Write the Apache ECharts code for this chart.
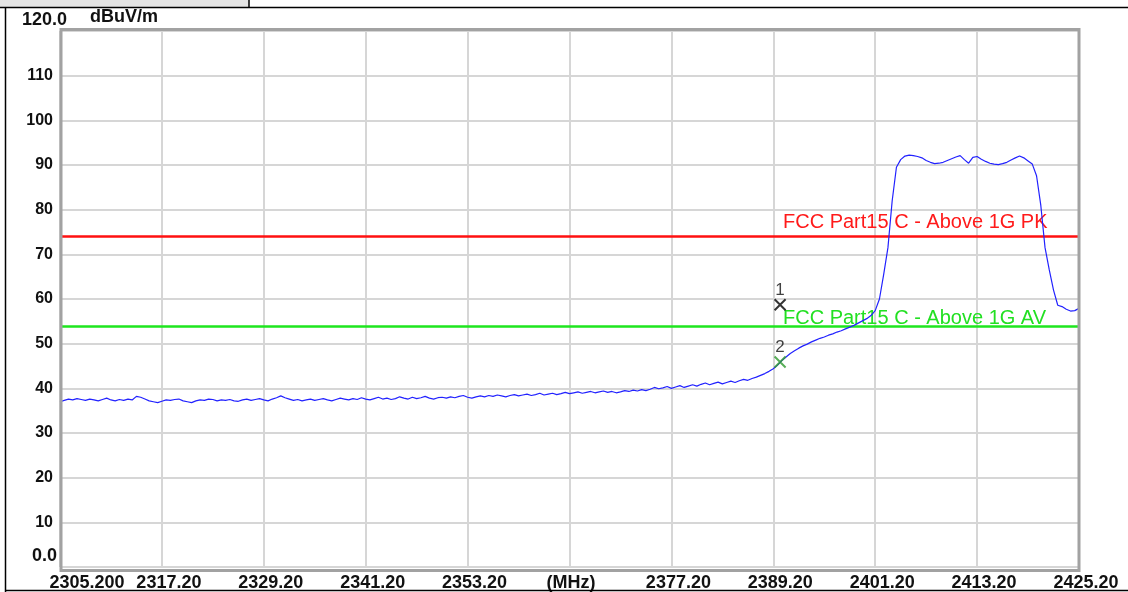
<!DOCTYPE html>
<html>
<head>
<meta charset="utf-8">
<script src="https://cdn.jsdelivr.net/npm/echarts@6/dist/echarts.min.js"></script>
<style>
  html, body { margin: 0; padding: 0; background: #ffffff; }
  #chart { width: 1128px; height: 592px; }
</style>
</head>
<body>
<div id="chart"></div>
<script>
// Sweep settings (MHz)
const sweepStartMHz = 2305.2;
const sweepStopMHz = 2425.2;
const sweepStepMHz = 0.5;
const freqTickStepMHz = 12;

// Axis tick labels
const freqTickLabels = ['2305.200', '2317.20', '2329.20', '2341.20', '2353.20', '(MHz)',
                        '2377.20', '2389.20', '2401.20', '2413.20', '2425.20'];
const levelTickLabels = ['0.0', '10', '20', '30', '40', '50', '60', '70', '80', '90', '100', '110', '120.0'];
const levelUnit = 'dBuV/m';

// Measured trace, one level (dBuV/m) per sweep point
const traceLevels = [
  37.0, 37.3, 37.6, 37.4, 37.7, 37.5, 37.3, 37.6, 37.4, 37.2,
  37.5, 37.8, 37.4, 37.2, 37.5, 37.3, 37.6, 37.4, 38.2, 38.0,
  37.6, 37.2, 37.0, 36.8, 37.1, 37.4, 37.3, 37.5, 37.6, 37.2,
  37.0, 36.8, 37.2, 37.4, 37.3, 37.6, 37.5, 37.2, 37.4, 37.3,
  37.5, 37.2, 37.1, 37.4, 37.6, 37.3, 37.5, 37.7, 37.4, 37.2,
  37.6, 37.9, 38.3, 37.9, 37.6, 37.3, 37.5, 37.2, 37.4, 37.6,
  37.3, 37.5, 37.7, 37.4, 37.2, 37.5, 37.8, 37.6, 37.4, 37.7,
  37.5, 37.9, 37.6, 37.4, 37.7, 38.0, 37.6, 37.8, 37.5, 37.7,
  38.1, 37.8, 37.6, 38.0, 37.7, 37.9, 38.2, 37.8, 37.6, 37.9,
  38.0, 37.8, 38.1, 37.9, 38.2, 38.4, 38.0, 37.8, 38.1, 38.3,
  38.1, 38.4, 38.2, 38.5, 38.3, 38.1, 38.4, 38.6, 38.3, 38.5,
  38.7, 38.4, 38.6, 38.9, 38.5, 38.7, 38.9, 38.6, 38.8, 39.1,
  38.8, 39.0, 39.2, 38.9, 39.1, 39.3, 39.0, 39.2, 39.4, 39.1,
  39.3, 39.0, 39.2, 39.5, 39.3, 39.6, 39.4, 39.7, 39.5, 39.8,
  40.2, 39.9, 40.1, 40.4, 40.0, 40.3, 40.6, 40.2, 40.5, 40.8,
  40.5, 40.9, 41.2, 40.8, 41.1, 41.4, 41.0, 41.3, 41.6, 41.3,
  41.7, 42.0, 41.8, 42.2, 42.5, 42.9, 43.3, 43.8, 44.4, 45.2,
  46.2, 47.0, 47.8, 48.4, 49.0, 49.5, 49.9, 50.4, 50.8, 51.2,
  51.5, 51.9, 52.2, 52.6, 52.9, 53.3, 53.7, 54.1, 54.6, 55.1,
  55.6, 56.3, 57.4, 60.0, 65.5, 71.5, 82.0, 89.5, 91.2, 92.0,
  92.2, 92.1, 91.9, 91.6, 91.0, 90.6, 90.3, 90.4, 90.6, 91.0,
  91.4, 91.8, 92.1, 91.2, 90.4, 91.7, 91.9, 91.3, 90.8, 90.4,
  90.2, 90.1, 90.3, 90.6, 91.1, 91.6, 92.0, 91.6, 90.9, 90.2,
  87.6, 81.0, 71.5, 66.5, 62.0, 58.6, 58.3, 57.7, 57.3, 57.4,
  57.9
];

// Limit lines
const limitPeakLevel = 74;
const limitAvgLevel = 54;
const limitPeakName = 'FCC Part15 C - Above 1G PK';
const limitAvgName = 'FCC Part15 C - Above 1G AV';

// Markers
const markerNames = ['1', '2'];
const markerFreqs = [2390.0, 2390.0];
const markerLevels = [58.7, 45.9];
const markerColors = ['#000000', '#2e9a2e'];

const tickFont = '"Liberation Sans", Arial, sans-serif';

const traceData = traceLevels.map((v, i) => [sweepStartMHz + i * sweepStepMHz, v]);

const crossPath = 'path://M0,0L10,10M10,0L0,10';

const markerSeries = markerNames.map((name, i) => ({
  type: 'scatter',
  name: 'Marker ' + name,
  data: [[markerFreqs[i], markerLevels[i]]],
  symbol: crossPath,
  symbolSize: 11,
  itemStyle: { color: 'none', borderColor: markerColors[i], borderWidth: 2 },
  label: {
    show: true, position: 'top', distance: -2,
    formatter: name, color: '#111', fontFamily: tickFont, fontSize: 17
  },
  z: 5,
  silent: true
}));

const chart = echarts.init(document.getElementById('chart'), null, { renderer: 'canvas' });

chart.setOption({
  animation: false,
  backgroundColor: '#ffffff',
  grid: { left: 60, width: 1019, top: 31, height: 537, containLabel: false },
  xAxis: {
    type: 'value',
    min: sweepStartMHz,
    max: sweepStopMHz,
    interval: freqTickStepMHz,
    axisLine: { show: false },
    axisTick: { show: false },
    splitLine: { show: true, lineStyle: { color: '#d6d6d6', width: 2 } },
    axisLabel: {
      margin: 7,
      showMinLabel: true,
      showMaxLabel: true,
      hideOverlap: false,
      formatter: (v) => {
        const idx = Math.round((v - sweepStartMHz) / freqTickStepMHz);
        const txt = freqTickLabels[idx] || '';
        if (idx === 0) return '{first|' + txt + '}';
        if (txt === '(MHz)') return '{unit|' + txt + '}';
        return '{t|' + txt + '}';
      },
      rich: {
        first: { fontFamily: tickFont, fontWeight: 'bold', fontSize: 18, color: '#111', padding: [0, 0, 0, 54] },
        t: { fontFamily: tickFont, fontWeight: 'bold', fontSize: 18, color: '#111', padding: [0, 0, 0, 14] },
        unit: { fontFamily: tickFont, fontWeight: 'bold', fontSize: 18, color: '#111', padding: [0, 0, 0, 3] }
      }
    }
  },
  yAxis: {
    type: 'value',
    min: 0,
    max: 120,
    interval: 10,
    axisLine: { show: false },
    axisTick: { show: false },
    splitLine: { show: true, lineStyle: { color: '#d6d6d6', width: 2 } },
    axisLabel: {
      margin: 3,
      showMinLabel: true,
      showMaxLabel: true,
      formatter: (v) => {
        const idx = Math.round(v / 10);
        if (idx === 12) return '';
        if (idx === 0) return '{z|' + levelTickLabels[0] + '}';
        return '{t|' + levelTickLabels[idx] + '}';
      },
      rich: {
        z: { fontFamily: tickFont, fontWeight: 'bold', fontSize: 18, color: '#111', padding: [0, 0, 22, 0] },
        t: { fontFamily: tickFont, fontWeight: 'bold', fontSize: 16, color: '#111', padding: [0, 4, 0, 0] }
      }
    }
  },
  graphic: [
    { type: 'rect', shape: { x: 0, y: 0, width: 249, height: 7 }, style: { fill: '#e4e4e4' }, z: 10 },
    { type: 'line', shape: { x1: 249, y1: 0, x2: 249, y2: 7 }, style: { stroke: '#000', lineWidth: 1.5 }, z: 10 },
    { type: 'line', shape: { x1: 0, y1: 7.5, x2: 1128, y2: 7.5 }, style: { stroke: '#000', lineWidth: 1.5 }, z: 10 },
    { type: 'line', shape: { x1: 5.5, y1: 7, x2: 5.5, y2: 592 }, style: { stroke: '#000', lineWidth: 1.5 }, z: 10 },
    { type: 'line', shape: { x1: 5, y1: 590.5, x2: 1128, y2: 590.5 }, style: { stroke: '#000', lineWidth: 1.5 }, z: 10 },
    { type: 'rect', shape: { x: 61, y: 29.5, width: 1018, height: 541 },
      style: { fill: 'none', stroke: '#a2a2a2', lineWidth: 3 }, z: 10, silent: true },
    { type: 'text', left: 22, top: 11,
      style: { text: levelTickLabels[12], font: 'bold 18px ' + tickFont, fill: '#111' }, z: 10 },
    { type: 'text', left: 90, top: 8,
      style: { text: levelUnit, font: 'bold 18px ' + tickFont, fill: '#111' }, z: 10 }
  ],
  series: [
    {
      type: 'line',
      name: 'Trace',
      data: traceData,
      showSymbol: false,
      symbol: 'none',
      lineStyle: { color: '#2222ff', width: 1.2 },
      z: 4,
      silent: true,
      markLine: {
        silent: true,
        symbol: 'none',
        animation: false,
        z: 3,
        data: [
          {
            yAxis: limitPeakLevel,
            lineStyle: { color: '#ff1010', width: 2.5, type: 'solid' },
            label: {
              show: true, position: 'insideStartTop', formatter: limitPeakName,
              color: '#ff1a1a', fontFamily: tickFont, fontSize: 20, distance: 4,
              padding: [0, 0, 0, 719]
            }
          },
          {
            yAxis: limitAvgLevel,
            lineStyle: { color: '#1ee61e', width: 2.5, type: 'solid' },
            label: {
              show: true, position: 'insideStartTop', formatter: limitAvgName,
              color: '#22e022', fontFamily: tickFont, fontSize: 20, distance: -3,
              padding: [0, 0, 0, 726]
            }
          }
        ]
      }
    },
    ...markerSeries
  ]
});
</script>
</body>
</html>
